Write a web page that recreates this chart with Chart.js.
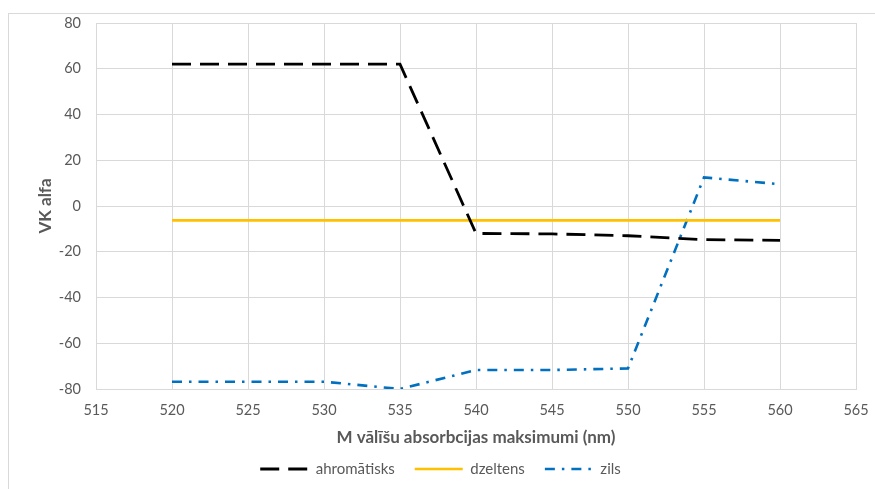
<!DOCTYPE html>
<html>
<head>
<meta charset="utf-8">
<script src="https://cdn.jsdelivr.net/npm/chart.js@4/dist/chart.umd.min.js"></script>
<style>
  html, body { margin: 0; padding: 0; background: #fff; overflow: hidden; }
  #wrap { position: relative; width: 875px; height: 489px; }
  #frame { position: absolute; left: 8px; top: 13px; width: 900px; height: 500px; border: 1px solid #d9d9d9; box-sizing: border-box; }
  #c { position: absolute; left: 0; top: 0; }
</style>
</head>
<body>
<div id="wrap">
  <div id="frame"></div>
  <canvas id="c" width="875" height="489"></canvas>
</div>
<script>
// Absorption maxima of M cones (nm)
const wavelengths = [520, 525, 530, 535, 540, 545, 550, 555, 560];
// VK alfa per colour group
const ahromatisks = [62, 62, 62, 62, -12, -12.2, -13, -14.7, -15];
const dzeltens    = [-6.3, -6.3, -6.3, -6.3, -6.3, -6.3, -6.3, -6.3, -6.3];
const zils        = [-76.8, -76.8, -76.8, -80, -71.7, -71.7, -71, 12.5, 9.5];
const seriesNames = ['ahromātisks', 'dzeltens', 'zils'];
const xTicks = [515, 520, 525, 530, 535, 540, 545, 550, 555, 560, 565];
const yTicks = [-80, -60, -40, -20, 0, 20, 40, 60, 80];

const pts = vals => wavelengths.map((w, i) => ({ x: w, y: vals[i] }));
const FONT = 'Lato, "Liberation Sans", sans-serif';
const GREY = '#595959';
const GRID = '#d9d9d9';

new Chart(document.getElementById('c'), {
  type: 'line',
  data: {
    datasets: [
      { label: seriesNames[0], data: pts(ahromatisks), borderColor: '#000000', backgroundColor: '#000000',
        borderWidth: 2.8, borderDash: [19, 9], pointRadius: 0, pointStyle: 'line', tension: 0 },
      { label: seriesNames[1], data: pts(dzeltens), borderColor: '#FFC000', backgroundColor: '#FFC000',
        borderWidth: 2.6, pointRadius: 0, pointStyle: 'line', tension: 0 },
      { label: seriesNames[2], data: pts(zils), borderColor: '#0070C0', backgroundColor: '#0070C0',
        borderWidth: 2.6, borderDash: [10, 7, 2.5, 7], pointRadius: 0, pointStyle: 'line', tension: 0 }
    ]
  },
  options: {
    responsive: false,
    animation: false,
    events: [],
    layout: { padding: { left: 25, top: 23, right: 19, bottom: 2.5 } },
    scales: {
      x: {
        type: 'linear', min: 515, max: 565,
        afterBuildTicks: s => { s.ticks = xTicks.map(v => ({ value: v })); },
        afterFit: s => { s.height = 52.5; s.paddingLeft = 0; s.paddingRight = 0; },
        grid: { color: GRID, lineWidth: 1, drawTicks: false },
        border: { color: GRID, width: 1 },
        ticks: { color: GREY, font: { family: FONT, size: 14.5 }, padding: 13, maxRotation: 0 },
        title: { display: true, text: 'M vālīšu absorbcijas maksimumi (nm)', color: GREY,
                 font: { family: FONT, size: 17, weight: 'bold' }, padding: { top: 0, bottom: -6.4 } }
      },
      y: {
        min: -80, max: 80,
        afterBuildTicks: s => { s.ticks = yTicks.map(v => ({ value: v })); },
        afterFit: s => { s.width = 71; s.paddingTop = 0; s.paddingBottom = 0; },
        grid: { color: GRID, lineWidth: 1, drawTicks: false },
        border: { color: GRID, width: 1 },
        ticks: { color: GREY, font: { family: FONT, size: 14.5 }, padding: 15 },
        title: { display: true, text: 'VK alfa', color: GREY,
                 font: { family: FONT, size: 17, weight: 'bold' }, padding: { top: 10, bottom: 0 } }
      }
    },
    plugins: {
      tooltip: { enabled: false },
      legend: {
        position: 'bottom',
        labels: {
          usePointStyle: true, pointStyleWidth: 48, boxHeight: 15,
          color: GREY, font: { family: FONT, size: 15 }, padding: 20,
          generateLabels: chart => {
            const items = Chart.defaults.plugins.legend.labels.generateLabels(chart);
            items.forEach(item => {
              const ds = chart.data.datasets[item.datasetIndex];
              item.lineDash = ds.borderDash || [];
              item.lineWidth = ds.borderWidth;
              item.strokeStyle = ds.borderColor;
              item.pointStyle = 'line';
            });
            return items;
          }
        }
      }
    }
  }
});
</script>
</body>
</html>
